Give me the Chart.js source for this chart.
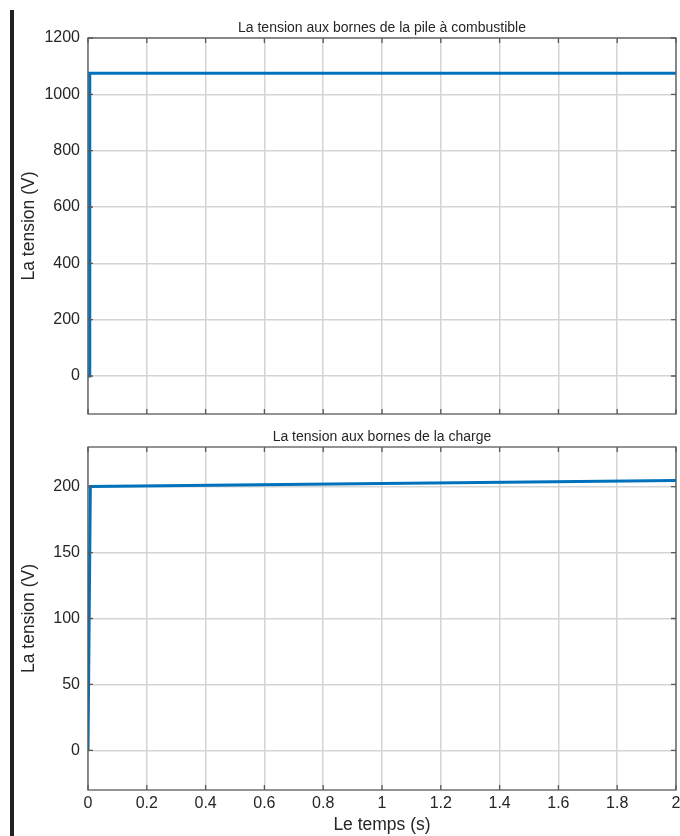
<!DOCTYPE html>
<html>
<head>
<meta charset="utf-8">
<script src="https://cdn.jsdelivr.net/npm/chart.js@4.4.1/dist/chart.umd.min.js"></script>
<style>
  html, body { margin: 0; padding: 0; background: #fff; overflow: hidden; }
  #wrap { position: relative; width: 680px; height: 836px; }
  #bar { position: absolute; left: 10px; top: 10px; width: 4px; height: 826px; background: #222; }
  canvas { position: absolute; left: 0; }
  #cTop { top: 0; }
  #cBot { top: 420px; }
</style>
</head>
<body>
<div id="wrap">
  <div id="bar"></div>
  <canvas id="cTop" width="680" height="420"></canvas>
  <canvas id="cBot" width="680" height="416"></canvas>
</div>
<script>
// Time axis (s)
const timeTicks = [0, 0.2, 0.4, 0.6, 0.8, 1, 1.2, 1.4, 1.6, 1.8, 2];

// Fuel-cell stack terminal voltage (V)
const stackTime    = [0, 0.004, 0.006, 2];
const stackVoltage = [0, 0, 1075, 1075];
const stackTicks   = [0, 200, 400, 600, 800, 1000, 1200];

// Load terminal voltage (V)
const loadTime    = [0, 0.008, 0.5, 1, 1.5, 2];
const loadVoltage = [0, 200, 201.2, 202.4, 203.5, 204.7];
const loadTicks   = [0, 50, 100, 150, 200];

const FONT = '"Liberation Sans", Arial, Helvetica, sans-serif';
const INK = '#262626';
Chart.defaults.font.family = FONT;
Chart.defaults.color = INK;

// Title centred over the plotting area
const panelTitle = {
  id: 'panelTitle',
  afterDraw(chart, args, opts) {
    const { ctx, chartArea } = chart;
    ctx.save();
    ctx.font = '14px ' + FONT;
    ctx.fillStyle = INK;
    ctx.textAlign = 'center';
    ctx.textBaseline = 'alphabetic';
    ctx.fillText(opts.text, (chartArea.left + chartArea.right) / 2, chartArea.top - 6);
    ctx.restore();
  }
};

// Boxed axes with inward tick marks
const axesBox = {
  id: 'axesBox',
  afterDatasetsDraw(chart) {
    const { ctx, chartArea: a, scales } = chart;
    ctx.save();
    ctx.strokeStyle = '#5a5a5a';
    ctx.lineWidth = 1.3;
    ctx.beginPath();
    scales.x.ticks.forEach(t => {
      const px = scales.x.getPixelForValue(t.value);
      ctx.moveTo(px, a.bottom); ctx.lineTo(px, a.bottom - 5);
      ctx.moveTo(px, a.top);    ctx.lineTo(px, a.top + 5);
    });
    scales.y.ticks.forEach(t => {
      const py = scales.y.getPixelForValue(t.value);
      ctx.moveTo(a.left, py);  ctx.lineTo(a.left + 5, py);
      ctx.moveTo(a.right, py); ctx.lineTo(a.right - 5, py);
    });
    ctx.stroke();
    ctx.strokeRect(a.left, a.top, a.right - a.left, a.bottom - a.top);
    ctx.restore();
  }
};

function makePanel(canvas, cfg) {
  const points = cfg.t.map((t, i) => ({ x: t, y: cfg.v[i] }));
  return new Chart(canvas, {
    type: 'line',
    data: {
      datasets: [{
        data: points,
        borderColor: '#0072BD',
        borderWidth: 3,
        pointRadius: 0,
        tension: 0,
        fill: false
      }]
    },
    plugins: [panelTitle, axesBox],
    options: {
      responsive: false,
      animation: false,
      layout: { padding: cfg.padding },
      plugins: {
        legend: { display: false },
        tooltip: { enabled: false },
        panelTitle: { text: cfg.title }
      },
      scales: {
        x: {
          type: 'linear',
          min: 0,
          max: 2,
          afterBuildTicks: s => { s.ticks = timeTicks.map(v => ({ value: v })); },
          afterFit: s => { s.height = cfg.xHeight; s.paddingLeft = 0; s.paddingRight = 0; },
          grid: { color: '#d4d4d4', lineWidth: 1.5, drawTicks: false },
          border: { display: false },
          ticks: {
            display: cfg.showX,
            padding: 4,
            maxRotation: 0,
            font: { size: 16 },
            color: INK,
            callback: v => String(Math.round(v * 10) / 10)
          },
          title: {
            display: cfg.showX,
            text: 'Le temps (s)',
            font: { size: 17.5 },
            color: INK,
            padding: { top: 0, bottom: 0 }
          }
        },
        y: {
          type: 'linear',
          min: cfg.yMin,
          max: cfg.yMax,
          afterBuildTicks: s => { s.ticks = cfg.yTicks.map(v => ({ value: v })); },
          afterFit: s => { s.width = 88; s.paddingTop = 0; s.paddingBottom = 0; },
          grid: { color: '#d4d4d4', lineWidth: 1.5, drawTicks: false },
          border: { display: false },
          ticks: { padding: 8, font: { size: 16 }, color: INK, callback: v => String(v) },
          title: {
            display: true,
            text: 'La tension (V)',
            font: { size: 17.5 },
            color: INK,
            padding: { top: 18.5, bottom: 0 }
          }
        }
      }
    }
  });
}

makePanel(document.getElementById('cTop'), {
  title: 'La tension aux bornes de la pile à combustible',
  t: stackTime, v: stackVoltage,
  yMin: -135, yMax: 1200, yTicks: stackTicks,
  showX: false, xHeight: 6,
  padding: { top: 38, right: 4, left: 0, bottom: 0 }
});

makePanel(document.getElementById('cBot'), {
  title: 'La tension aux bornes de la charge',
  t: loadTime, v: loadVoltage,
  yMin: -30, yMax: 230, yTicks: loadTicks,
  showX: true, xHeight: 46,
  padding: { top: 27, right: 4, left: 0, bottom: 0 }
});
</script>
</body>
</html>
